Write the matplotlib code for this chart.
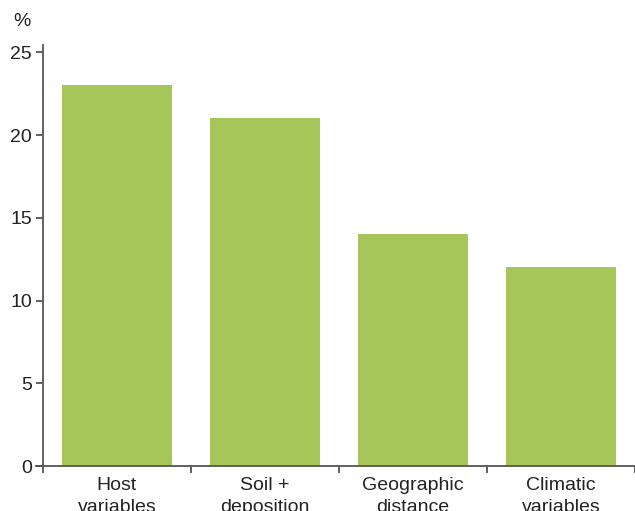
import numpy as np
import matplotlib
matplotlib.use('Agg')
import matplotlib.pyplot as plt

plt.rcParams['font.family'] = ['Liberation Sans', 'DejaVu Sans']

# data
categories = ["Host\nvariables", "Soil +\ndeposition", "Geographic\ndistance", "Climatic\nvariables"]
values = [23, 21, 14, 12]
y_ticks = [0, 5, 10, 15, 20, 25]

bar_color = "#a6c65a"
axis_color = "#555555"
text_color = "#222222"

fig = plt.figure(figsize=(6.35, 5.11), dpi=100)
ax = fig.add_axes([36 / 635, 45 / 511, 1 - 36 / 635, (466 - 45) / 511])

x = np.arange(len(categories))
ax.bar(x, values, width=0.745, color=bar_color, zorder=2)

ax.set_xlim(-0.5 - 7 / 148.8, -0.5 + (635 - 43) / 148.8)
ax.set_ylim(0, 25.44)

for s in ['top', 'right']:
    ax.spines[s].set_visible(False)
ax.spines['left'].set_position(('data', -0.5))
ax.spines['left'].set_color(axis_color)
ax.spines['bottom'].set_color(axis_color)
ax.spines['left'].set_linewidth(1.3)
ax.spines['bottom'].set_linewidth(1.3)

ax.set_yticks(y_ticks)
ax.set_yticklabels([str(t) for t in y_ticks])
ax.tick_params(axis='y', length=5, width=1.3, color=axis_color, pad=3,
               labelsize=14, labelcolor=text_color)

# boundary ticks (major) and category labels (minor)
ax.set_xticks(np.arange(-0.5, len(categories), 1.0))
ax.set_xticklabels([])
ax.tick_params(axis='x', which='major', length=5, width=1.3, color=axis_color)
ax.set_xticks(x, minor=True)
ax.set_xticklabels(categories, minor=True)
ax.tick_params(axis='x', which='minor', length=0, pad=8, labelsize=14,
               labelcolor=text_color)
for lbl in ax.get_xticklabels(minor=True):
    lbl.set_linespacing(1.4)

fig.text(13 / 635, 1 - 21 / 511, "%", fontsize=14, color=text_color,
         ha='left', va='center')

fig.savefig('out.png', dpi=100)
print("plot success!")
